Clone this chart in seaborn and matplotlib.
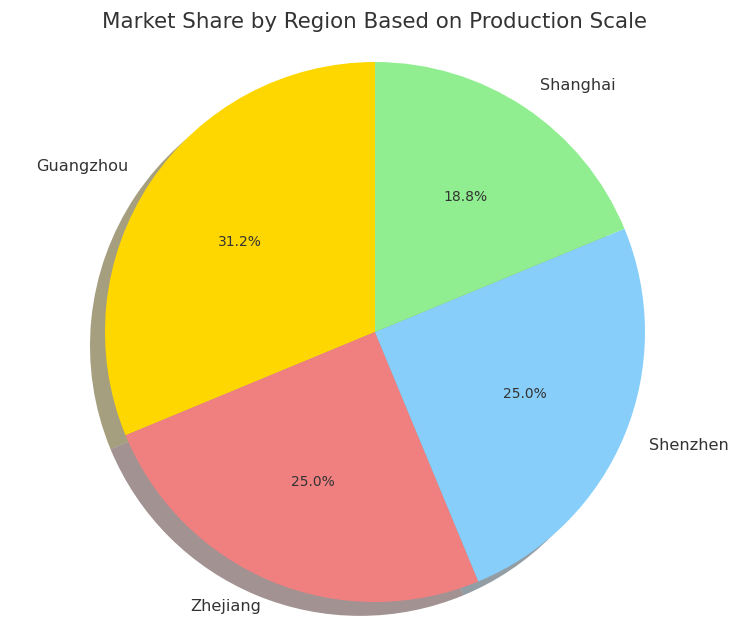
import matplotlib
matplotlib.use("Agg")
import matplotlib.pyplot as plt
import seaborn as sns

# Data
regions = ["Guangzhou", "Zhejiang", "Shenzhen", "Shanghai"]
production = [5, 4, 4, 3]
colors = ["gold", "lightcoral", "lightskyblue", "lightgreen"]

sns.set_theme(style="white")
plt.rcParams['font.family'] = ['DejaVu Sans']
plt.rcParams['text.color'] = '#333333'

W, H = 752, 639
fig = plt.figure(figsize=(W / 100, H / 100), dpi=100)
ax = fig.add_axes([0, 0, 1, 1])

# shadow shift is scaled by dpi/72 inside matplotlib
wedges, texts, autotexts = ax.pie(
    production,
    labels=regions,
    colors=colors,
    autopct='%1.1f%%',
    startangle=90,
    shadow={'ox': -0.04, 'oy': -0.037},
    wedgeprops={'linewidth': 0, 'edgecolor': 'none'},
    textprops={'fontsize': 11.6, 'color': '#333333'},
)
for t in autotexts:
    t.set_fontsize(10)

# pie radius ~270px, centre at (375, 332) from top-left
r, cx, cy = 270, 375, H - 332
ax.set_xlim(-cx / r, (W - cx) / r)
ax.set_ylim(-cy / r, (H - cy) / r)
ax.axis('off')

fig.text(0.498, 1 - 22 / H, "Market Share by Region Based on Production Scale",
         fontsize=15.4, color='#333333', ha='center', va='center')

plt.savefig("out.png", dpi=100)
